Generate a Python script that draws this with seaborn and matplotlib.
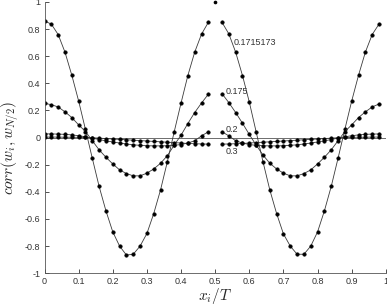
"""
Correlation of w_i with the central value w_{N/2} for several parameter values.
"""

import matplotlib
matplotlib.use("Agg")
import matplotlib.pyplot as plt
import seaborn as sns
import pandas as pd

# --- data ---
x_left = [0.00, 0.02, 0.04, 0.06, 0.08, 0.10, 0.12, 0.14, 0.16, 0.18, 0.20, 0.22,
          0.24, 0.26, 0.28, 0.30, 0.32, 0.34, 0.36, 0.38, 0.40, 0.42, 0.44, 0.46, 0.48]
x_right = [0.52, 0.54, 0.56, 0.58, 0.60, 0.62, 0.64, 0.66, 0.68, 0.70, 0.72, 0.74,
           0.76, 0.78, 0.80, 0.82, 0.84, 0.86, 0.88, 0.90, 0.92, 0.94, 0.96, 0.98]

series_labels = ["0.1715173", "0.175", "0.2", "0.3"]

corr_1715_left = [0.86, 0.837, 0.76, 0.63, 0.46, 0.27, 0.06, -0.152, -0.36, -0.54, -0.695, -0.80,
                  -0.866, -0.86, -0.80, -0.707, -0.56, -0.385, -0.177, 0.043, 0.255, 0.458, 0.63, 0.763, 0.85]
corr_1715_right = [0.85, 0.765, 0.63, 0.458, 0.262, 0.043, -0.177, -0.385, -0.56, -0.71, -0.80, -0.86,
                   -0.86, -0.80, -0.695, -0.54, -0.36, -0.152, 0.062, 0.27, 0.46, 0.63, 0.76, 0.837]

corr_175_left = [0.253, 0.243, 0.226, 0.19, 0.148, 0.094, 0.045, -0.023, -0.09, -0.145, -0.194, -0.238,
                 -0.265, -0.282, -0.282, -0.262, -0.231, -0.189, -0.133, -0.055, 0.018, 0.104, 0.185, 0.255, 0.32]
corr_175_right = [0.324, 0.258, 0.185, 0.106, 0.023, -0.055, -0.128, -0.189, -0.231, -0.262, -0.282, -0.282,
                  -0.265, -0.238, -0.194, -0.145, -0.09, -0.023, 0.045, 0.094, 0.148, 0.19, 0.226, 0.248]

corr_2_left = [0.028, 0.027, 0.026, 0.024, 0.020, 0.014, 0.006, -0.004, -0.014, -0.024, -0.032, -0.040,
               -0.047, -0.053, -0.057, -0.060, -0.061, -0.061, -0.060, -0.057, -0.051, -0.040, -0.023, 0.013, 0.043]
corr_2_right = [0.043, 0.013, -0.023, -0.040, -0.051, -0.057, -0.060, -0.061, -0.061, -0.060, -0.057, -0.053,
                -0.047, -0.040, -0.032, -0.024, -0.014, -0.004, 0.006, 0.014, 0.020, 0.024, 0.026, 0.027]

corr_3_left = [0.004, 0.004, 0.004, 0.003, 0.003, 0.002, 0.001, -0.001, -0.004, -0.007, -0.010, -0.013,
               -0.016, -0.019, -0.022, -0.025, -0.028, -0.031, -0.034, -0.037, -0.040, -0.043, -0.045, -0.047, -0.048]
corr_3_right = [-0.048, -0.047, -0.045, -0.043, -0.040, -0.037, -0.034, -0.031, -0.028, -0.025, -0.022, -0.019,
                -0.016, -0.013, -0.010, -0.007, -0.004, -0.001, 0.001, 0.002, 0.003, 0.003, 0.004, 0.004]

# the centre point itself (corr = 1 for every series)
x_center = [0.5]
corr_center = [1.0]

x_ticks = [0, 0.1, 0.2, 0.3, 0.4, 0.5, 0.6, 0.7, 0.8, 0.9, 1]
x_ticklabels = ["0", "0.1", "0.2", "0.3", "0.4", "0.5", "0.6", "0.7", "0.8", "0.9", "1"]
y_ticks = [-1, -0.8, -0.6, -0.4, -0.2, 0, 0.2, 0.4, 0.6, 0.8, 1]
y_ticklabels = ["-1", "-0.8", "-0.6", "-0.4", "-0.2", "0", "0.2", "0.4", "0.6", "0.8", "1"]

# label anchor positions (data coords)
label_x = [0.555, 0.532, 0.532, 0.532]
label_y = [0.70, 0.34, 0.06, -0.10]

sns.set_style("ticks")
plt.rcParams.update({
    "font.family": ["Liberation Sans", "DejaVu Sans"],
    "mathtext.fontset": "cm",
    "axes.unicode_minus": False,
    "xtick.direction": "in",
    "ytick.direction": "in",
})

fig = plt.figure(figsize=(3.87, 3.07), dpi=100)
ax = fig.add_axes([0.115, 0.11, 0.882, 0.8835])

halves = [
    (corr_1715_left, corr_1715_right),
    (corr_175_left, corr_175_right),
    (corr_2_left, corr_2_right),
    (corr_3_left, corr_3_right),
]

line_kw = dict(color="#3a3a3a", linewidth=0.6, marker="o", markersize=2.6,
               markerfacecolor="black", markeredgecolor="black", markeredgewidth=0.3)

for (left, right) in halves:
    df_l = pd.DataFrame({"x": x_left, "corr": left})
    df_r = pd.DataFrame({"x": x_right, "corr": right})
    sns.lineplot(data=df_l, x="x", y="corr", ax=ax, **line_kw)
    sns.lineplot(data=df_r, x="x", y="corr", ax=ax, **line_kw)

sns.scatterplot(x=x_center, y=corr_center, ax=ax, color="black", s=7, linewidth=0,
                clip_on=False, zorder=5)

ax.axhline(0, color="#555555", linewidth=0.6, zorder=0)

for lab, lx, ly in zip(series_labels, label_x, label_y):
    ax.text(lx, ly, lab, fontsize=6.5, color="#333333", va="center", ha="left")

ax.set_xlim(0, 1)
ax.set_ylim(-1, 1)
ax.set_xticks(x_ticks)
ax.set_xticklabels(x_ticklabels)
ax.set_yticks(y_ticks)
ax.set_yticklabels(y_ticklabels)
ax.tick_params(labelsize=6.5, colors="#333333", length=3, width=0.6, pad=3)

sns.despine(ax=ax)
for side in ["left", "bottom"]:
    ax.spines[side].set_color("#555555")
    ax.spines[side].set_linewidth(0.6)

ax.set_xlabel(r"$x_i/T$", fontsize=11)
ax.xaxis.set_label_coords(0.5, -0.047)
ax.set_ylabel(r"$corr(w_i,w_{N/2})$", fontsize=11)
ax.yaxis.set_label_coords(-0.069, 0.46)

fig.savefig("out.png", dpi=100)
plt.close(fig)
